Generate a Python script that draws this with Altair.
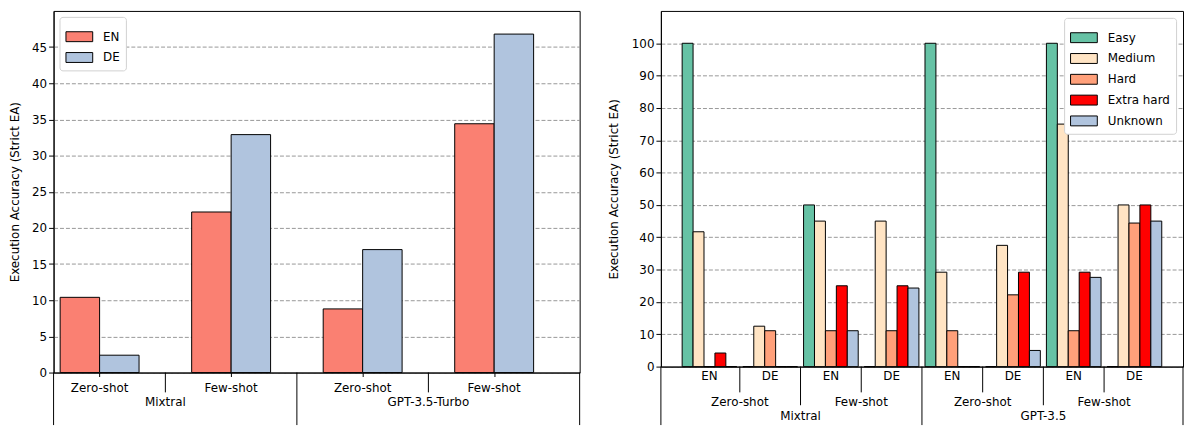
import altair as alt
import pandas as pd

# ---------------- data ----------------
# Left panel: overall strict EA per language
left_models = ["Mixtral", "Mixtral", "GPT-3.5-Turbo", "GPT-3.5-Turbo"]
left_shots = ["Zero-shot", "Few-shot", "Zero-shot", "Few-shot"]
left_langs = ["EN", "DE"]
en_values = [10.4, 22.2, 8.8, 34.4]
de_values = [2.4, 32.9, 17.0, 46.8]
left_colors = ["#fa8072", "#b0c4de"]

# Right panel: strict EA per difficulty level
right_models = ["Mixtral"] * 4 + ["GPT-3.5"] * 4
right_shots = ["Zero-shot", "Zero-shot", "Few-shot", "Few-shot"] * 2
right_langs = ["EN", "DE"] * 4
levels = ["Easy", "Medium", "Hard", "Extra hard", "Unknown"]
easy = [100.0, 0.0, 50.0, 0.0, 100.0, 0.0, 100.0, 0.0]
medium = [41.7, 12.5, 45.0, 45.0, 29.2, 37.5, 75.0, 50.0]
hard = [0.0, 11.1, 11.1, 11.1, 11.1, 22.2, 11.1, 44.4]
extra_hard = [4.2, 0.0, 25.0, 25.0, 0.0, 29.2, 29.2, 50.0]
unknown = [0.0, 0.0, 11.1, 24.3, 0.0, 5.0, 27.6, 45.0]
level_colors = ["#66c2a5", "#ffe4c4", "#ffa07a", "#ff0000", "#b0c4de"]

FONT = "DejaVu Sans"
FS = 12
YTITLE = "Execution Accuracy (Strict EA)"
SYM = "M-1,-0.37H1V0.37H-1Z"


def boundaries(keys):
    """midpoints between consecutive groups whose key changes"""
    out = []
    for i in range(len(keys) - 1):
        if keys[i] != keys[i + 1]:
            out.append(i + 0.5)
    return out


def centers(keys):
    """center position of each run of equal keys"""
    out = []
    start = 0
    for i in range(1, len(keys) + 1):
        if i == len(keys) or keys[i] != keys[start]:
            out.append({"x": (start + i - 1) / 2, "text": keys[start]})
            start = i
    return pd.DataFrame(out)


def legend(orient, offset):
    return alt.Legend(
        orient=orient, title=None, symbolType=SYM, symbolSize=729,
        symbolStrokeColor="black", symbolStrokeWidth=1, symbolOpacity=1,
        labelFont=FONT, labelFontSize=FS, labelColor="black",
        fillColor="white", strokeColor="#d0d0d0", cornerRadius=3,
        padding=6, offset=offset, rowPadding=0, labelOffset=10,
    )


def text_layer(df, xs, H, dy):
    return alt.Chart(df).mark_text(
        font=FONT, fontSize=FS, color="black", align="center", baseline="middle"
    ).encode(x=alt.X("x:Q", scale=xs, title=None), y=alt.value(H + dy), text="text:N")


def rule_layer(xvals, xs, H, length):
    return alt.Chart(pd.DataFrame({"x": xvals})).mark_rule(
        color="black", strokeWidth=1
    ).encode(x=alt.X("x:Q", scale=xs, title=None), y=alt.value(H), y2=alt.value(H + length))


# ---------------- left panel ----------------
WL, HL = 531, 365
xdom_l = [-0.35, 3.65]
xl = alt.Scale(domain=xdom_l, nice=False, zero=False)
yl = alt.Scale(domain=[0, 50], nice=False)

rows = []
for i in range(4):
    for k, vals in enumerate([en_values, de_values]):
        rows.append({"idx": i, "k": k, "lang": left_langs[k], "value": vals[i]})
df_l = pd.DataFrame(rows)

bars_l = alt.Chart(df_l).transform_calculate(
    x="datum.idx + (datum.k - 1) * 0.3", x1="datum.idx + datum.k * 0.3"
).mark_bar(stroke="black", strokeWidth=1, opacity=1).encode(
    x=alt.X("x:Q", scale=xl, title=None,
            axis=alt.Axis(values=[0, 1, 2, 3], labels=False, ticks=True, tickSize=4,
                          grid=False, domain=True)),
    x2="x1:Q",
    y=alt.Y("value:Q", scale=yl, title=YTITLE,
            axis=alt.Axis(values=list(range(0, 50, 5)), grid=True, titlePadding=10)),
    y2=alt.datum(0),
    color=alt.Color("lang:N", scale=alt.Scale(domain=left_langs, range=left_colors),
                    legend=legend("top-left", 6)),
)

left_model_b = boundaries(left_models)
left = alt.layer(
    bars_l,
    text_layer(centers(list(range(4))).assign(text=left_shots), xl, HL, 16),
    text_layer(centers(left_models), xl, HL, 30),
    rule_layer([b for b in boundaries(left_shots) if b not in left_model_b], xl, HL, 20),
    rule_layer([xdom_l[0]] + left_model_b + [xdom_l[1]], xl, HL, 53),
).properties(width=WL, height=HL)

# ---------------- right panel ----------------
WR, HR = 527, 359
xdom_r = [-0.8, 7.8]
xr = alt.Scale(domain=xdom_r, nice=False, zero=False)
yr = alt.Scale(domain=[0, 110], nice=False)

rows = []
for g in range(8):
    for k, vals in enumerate([easy, medium, hard, extra_hard, unknown]):
        rows.append({"g": g, "k": k, "level": levels[k], "value": vals[g]})
df_r = pd.DataFrame(rows)

bars_r = alt.Chart(df_r).transform_calculate(
    x="datum.g + (datum.k - 2.5) * 0.18", x1="datum.g + (datum.k - 1.5) * 0.18"
).mark_bar(stroke="black", strokeWidth=1, opacity=1).encode(
    x=alt.X("x:Q", scale=xr, title=None,
            axis=alt.Axis(labels=False, ticks=False, grid=False, domain=True)),
    x2="x1:Q",
    y=alt.Y("value:Q", scale=yr, title=YTITLE,
            axis=alt.Axis(values=list(range(0, 101, 10)), grid=True, titlePadding=11)),
    y2=alt.datum(0),
    color=alt.Color("level:N", sort=levels,
                    scale=alt.Scale(domain=levels, range=level_colors),
                    legend=legend("top-right", 7)),
)

shot_keys = [m + "|" + s for m, s in zip(right_models, right_shots)]
shot_centers = centers(shot_keys)
shot_centers["text"] = [t.split("|")[1] for t in shot_centers["text"]]
model_b = boundaries(right_models)
shot_b = [b for b in boundaries(shot_keys) if b not in model_b]
lang_b = [b for b in boundaries(list(range(8))) if b not in model_b and b not in shot_b]

right = alt.layer(
    bars_r,
    text_layer(pd.DataFrame({"x": list(range(8)), "text": right_langs}), xr, HR, 10),
    text_layer(shot_centers, xr, HR, 36),
    text_layer(centers(right_models), xr, HR, 50),
    rule_layer(lang_b, xr, HR, 26),
    rule_layer(shot_b, xr, HR, 39),
    rule_layer([xdom_r[0]] + model_b + [xdom_r[1]], xr, HR, 59),
).properties(width=WR, height=HR)

chart = alt.hconcat(left, right, spacing=26).resolve_scale(
    color="independent", x="independent", y="independent"
).resolve_legend(color="independent").properties(
    padding={"left": 0, "top": 0, "right": 0, "bottom": 0}
).configure_view(stroke="black", strokeWidth=1).configure_axis(
    labelFont=FONT, labelFontSize=FS, labelColor="black",
    titleFont=FONT, titleFontSize=FS, titleColor="black", titleFontWeight="normal",
    tickColor="black", domainColor="black", tickSize=5, labelPadding=2,
    gridColor="#8c8c8c", gridDash=[4, 2], gridWidth=0.9,
)

chart.save("out.html", embed_options={"renderer": "svg", "actions": False})
